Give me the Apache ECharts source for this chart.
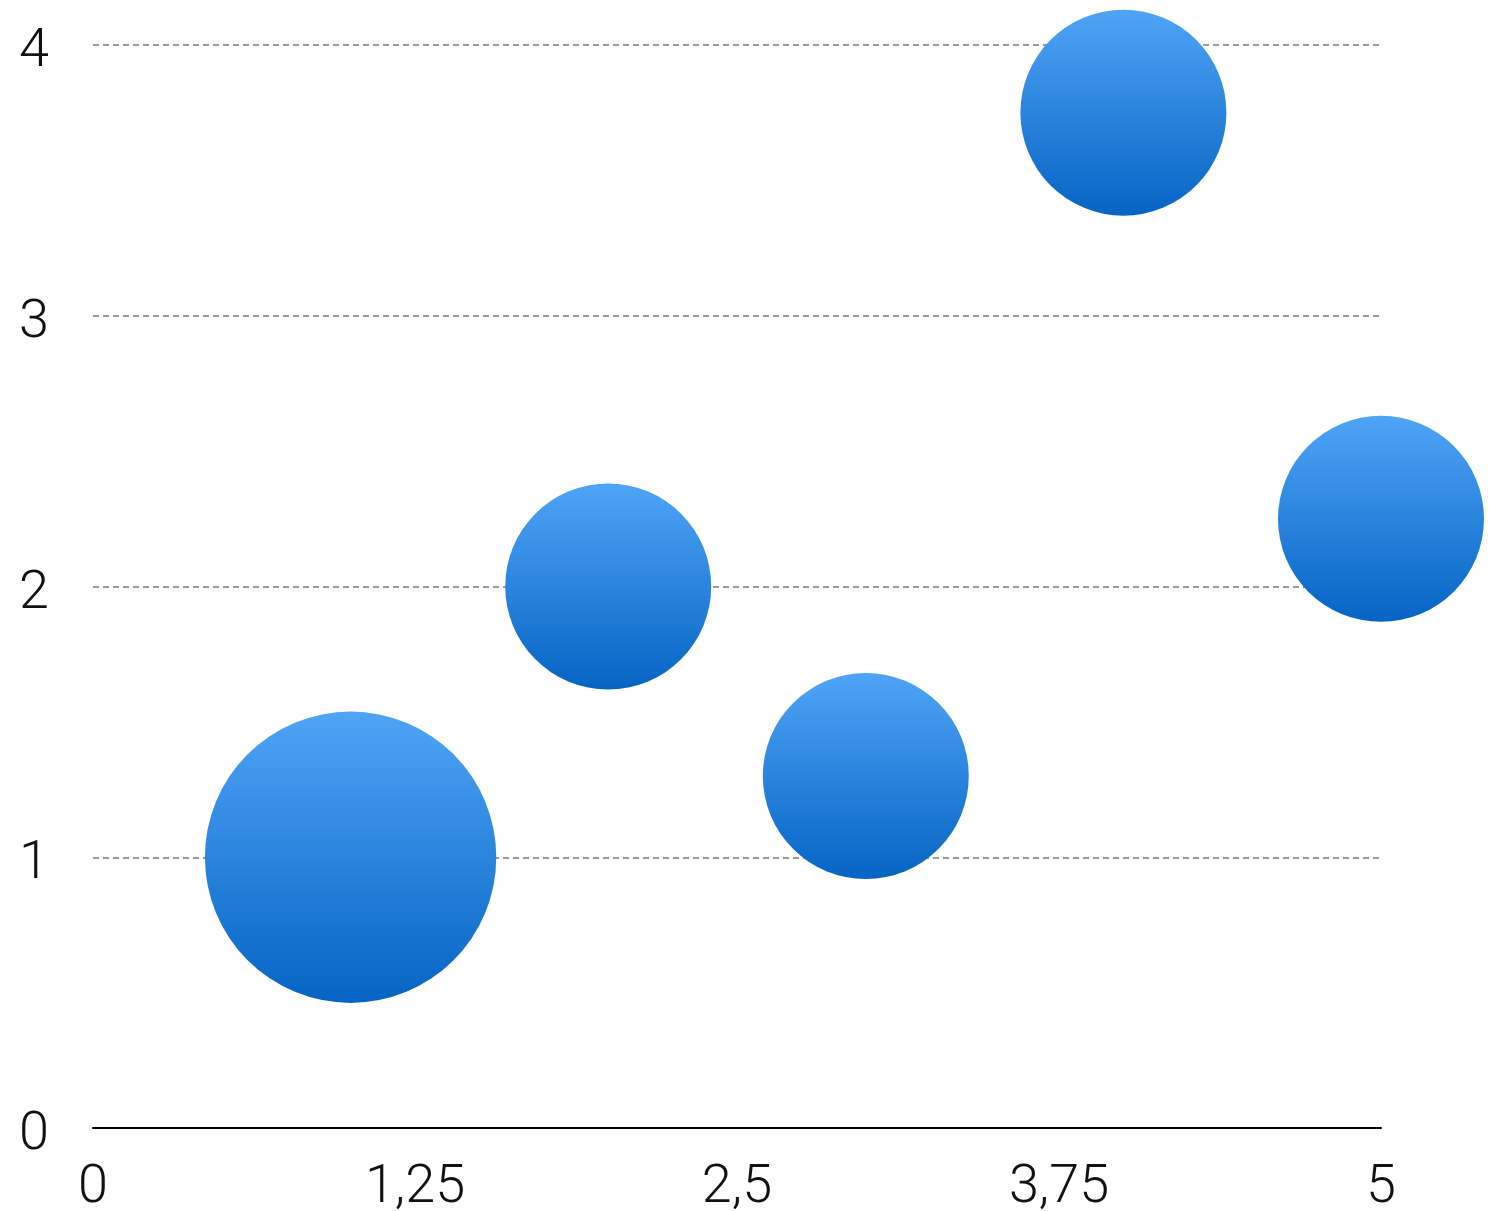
<!DOCTYPE html>
<html><head><meta charset="utf-8">
<script src="https://cdn.jsdelivr.net/npm/echarts@6/dist/echarts.min.js"></script>
<style>html,body{margin:0;padding:0;background:#fff}#c{width:1503px;height:1211px}</style>
</head><body><div id="c"></div>
<script>
const xValues = [1, 2, 3, 4, 5];
const yValues = [1, 2, 1.3, 3.75, 2.25];
const sizes = [2, 1, 1, 1, 1];
const xTicks = [0, 1.25, 2.5, 3.75, 5];
const yTicks = [0, 1, 2, 3, 4];

const data = xValues.map((x, i) => [x, yValues[i], sizes[i]]);
const font = 'Roboto, "Liberation Sans", sans-serif';
const chart = echarts.init(document.getElementById('c'), null, {renderer: 'canvas'});
chart.setOption({
  animation: false,
  grid: {left: 93, right: 122, top: 45, bottom: 83, containLabel: false, outerBoundsMode: 'none'},
  xAxis: {
    type: 'value', min: xTicks[0], max: xTicks[xTicks.length - 1], interval: 1.25,
    axisLine: {show: true, lineStyle: {color: '#000', width: 2}},
    axisTick: {show: false},
    splitLine: {show: false},
    axisLabel: {fontSize: 54, fontFamily: font, fontWeight: 300, color: '#111', margin: 33,
      formatter: v => String(v).replace('.', ',')}
  },
  yAxis: {
    type: 'value', min: yTicks[0], max: yTicks[yTicks.length - 1], interval: 1,
    axisLine: {show: false},
    axisTick: {show: false},
    splitLine: {show: true, lineStyle: {color: '#9a9a9a', width: 2, type: [6, 4]}},
    axisLabel: {fontSize: 54, fontFamily: font, fontWeight: 300, color: '#111', margin: 44,
      verticalAlign: 'top', lineHeight: 15,
      formatter: v => String(v).replace('.', ',')}
  },
  series: [{
    type: 'scatter',
    clip: false,
    data: data,
    symbolSize: d => Math.sqrt(d[2]) * 206,
    itemStyle: {
      opacity: 1,
      color: new echarts.graphic.LinearGradient(0, 0, 0, 1, [
        {offset: 0, color: '#4FA4F6'},
        {offset: 1, color: '#0764C4'}
      ])
    }
  }]
});
</script></body></html>
